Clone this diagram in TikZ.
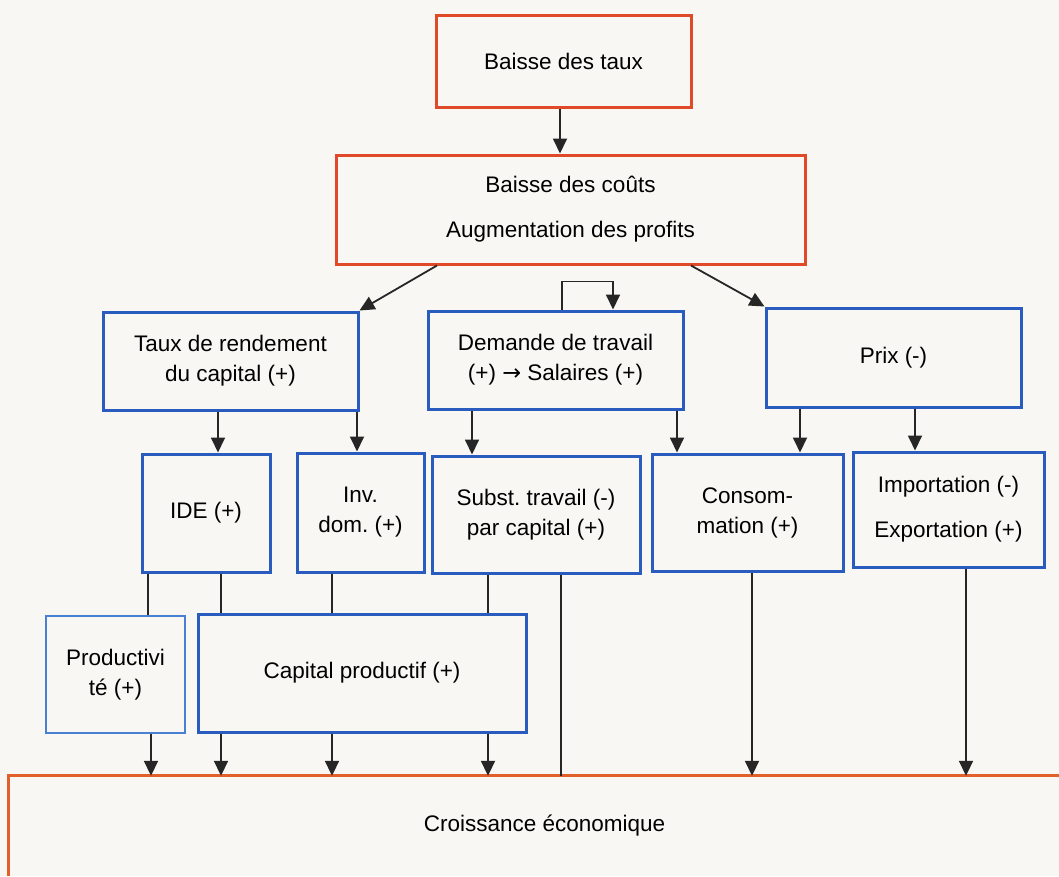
\documentclass[tikz,border=0pt]{standalone}
\usepackage{fontspec}
\setmainfont{Liberation Sans}
\newfontfamily\arrowfont{DejaVu Sans}
\usetikzlibrary{arrows.meta}
\definecolor{boxblue}{HTML}{2A5BBE}
\definecolor{lightblue}{HTML}{4A80D4}
\definecolor{boxred}{HTML}{E04A28}
\definecolor{croissorange}{HTML}{E2602A}
\definecolor{paper}{HTML}{F8F7F4}
\frenchspacing
\begin{document}
\begin{tikzpicture}[x=1pt,y=-1pt,
  every node/.style={font=\fontsize{22.5}{30}\selectfont, align=center, inner sep=0pt, text=black},
  sz/.style 2 args={minimum width=#1pt, minimum height=#2pt},
  bluebox/.style={draw=boxblue, line width=3pt},
  redbox/.style={draw=boxred, line width=3pt},
  thinbox/.style={draw=lightblue, line width=1.5pt},
  conn/.style={line width=1.8pt, draw=black!85},
  arr/.style={conn, -{Triangle[length=15pt,width=14pt]}},
]
\useasboundingbox (0,0) rectangle (1059,876);
\fill[paper] (0,0) rectangle (1059,876);
\clip (0,0) rectangle (1059,876);

% top
\node[redbox, sz={255}{92}] (b1) at (563.5,61) {Baisse des taux};
\node[redbox, sz={469}{109}] (b2) at (570.5,209.5) {Baisse des coûts\\[15pt]Augmentation des profits};

% row 2
\node[bluebox, sz={255}{98}] (taux) at (230.5,361) {Taux de rendement\\du capital (+)};
\node[bluebox, sz={255}{98}] (dem) at (555.5,360) {Demande de travail\\(+) {\arrowfont →} Salaires (+)};
\node[bluebox, sz={255}{99}] (prix) at (893.5,357.5) {Prix (-)};

% row 3
\node[bluebox, sz={128}{118}] (ide) at (206,513) {IDE (+)};
\node[bluebox, sz={127}{119}] (inv) at (360.5,512.5) {Inv.\\dom. (+)};
\node[bluebox, sz={208}{117}] (subst) at (536,514.5) {Subst. travail (-)\\par capital (+)};
\node[bluebox, sz={191}{117}] (cons) at (747.5,512.5) {Consom-\\mation (+)};
\node[bluebox, sz={191}{115}] (imp) at (948.5,509.5) {Importation (-)\\[15pt]Exportation (+)};

% row 4
\node[thinbox, sz={139}{117}] (prod) at (115.5,674.5) {Productivi\\té (+)};
\node[bluebox, sz={328}{118}] (cap) at (362,673) {Capital productif (+)};

% bottom
\node[sz={1071}{100}] (croiss) at (544.5,826) {Croissance économique};
\draw[draw=croissorange, line width=3pt] (croiss.south west) -- (croiss.north west) -- (croiss.north east);

% connectors
\draw[arr] (b1.south -| 560,0) -- (b2.north -| 560,0);
\draw[arr] (b2.south -| 437,0) -- (taux.north east);
\draw[arr] (b2.south -| 691,0) -- (prix.north west);
\draw[arr] (dem.north -| 562,0) -- ++(0,-28) -| (dem.north -| 613,0);

\draw[arr] (taux.south -| 218,0) -- (ide.north -| 218,0);
\draw[arr] (taux.south -| 357,0) -- (inv.north -| 357,0);
\draw[arr] (dem.south -| 472,0) -- (subst.north -| 472,0);
\draw[arr] (dem.south -| 677,0) -- (cons.north -| 677,0);
\draw[arr] (prix.south -| 800,0) -- (cons.north -| 800,0);
\draw[arr] (prix.south -| 915,0) -- (imp.north -| 915,0);

\draw[conn] (ide.south -| 148,0) -- (prod.north -| 148,0);
\draw[conn] (ide.south -| 221,0) -- (cap.north -| 221,0);
\draw[conn] (inv.south -| 332,0) -- (cap.north -| 332,0);
\draw[conn] (subst.south -| 488,0) -- (cap.north -| 488,0);
\draw[conn] (subst.south -| 561,0) -- (croiss.north -| 561,0);

\draw[arr] (prod.south -| 151,0) -- (croiss.north -| 151,0);
\draw[arr] (cap.south -| 221,0) -- (croiss.north -| 221,0);
\draw[arr] (cap.south -| 332,0) -- (croiss.north -| 332,0);
\draw[arr] (cap.south -| 488,0) -- (croiss.north -| 488,0);
\draw[arr] (cons.south -| 752,0) -- (croiss.north -| 752,0);
\draw[arr] (imp.south -| 966,0) -- (croiss.north -| 966,0);
\end{tikzpicture}
\end{document}
